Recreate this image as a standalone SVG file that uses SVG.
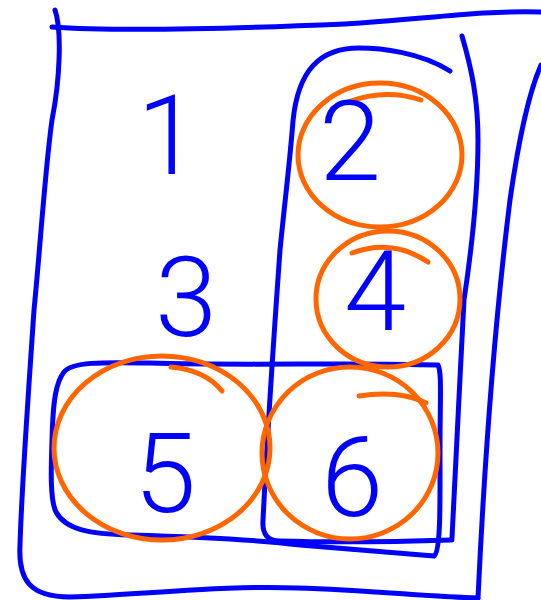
<svg xmlns="http://www.w3.org/2000/svg" width="541" height="600" viewBox="0 0 541 600">
<style>
.b{fill:none;stroke:#0000ff;stroke-width:5;stroke-linecap:round;stroke-linejoin:round}
.o{fill:none;stroke:#ff6600;stroke-width:5;stroke-linecap:round;stroke-linejoin:round}
.t{fill:#0000ff;font-family:Roboto,"Liberation Sans",sans-serif;font-weight:300;font-size:112px;text-anchor:middle}
</style>
<rect width="541" height="600" fill="#ffffff"/>
<g id="frame">
<path class="b" d="M55,10 C62,30 60,80 52,120 C45,170 40,250 34,310 C28,400 22,480 20,545 C18,580 30,597 70,597 C150,594 230,585 297,588 C370,590 430,597 478,598"/>
<path class="b" d="M478,598 C485,450 495,320 510,200 C520,130 530,90 541,65"/>
<path class="b" d="M52,27 C120,32 250,28 345,24 C420,20 480,10 541,12"/>
</g>
<g id="column">
<path class="b" d="M450,71 C420,52 380,48 359,48 C320,48 298,70 293,121 C290,160 285,200 280,250 C275,320 268,420 263,520 C262,535 268,541 280,541 C350,543 420,541 452,540"/>
<path class="b" d="M462,36 C472,70 478,100 478,140 C478,200 470,260 464,300 C460,380 455,470 452,538"/>
</g>
<g id="row">
<path class="b" d="M438,365 C350,362 250,366 150,363 C100,362 72,362 64,372 C56,382 53,400 52,440 C51,470 50,500 56,512 C66,530 90,534 130,535 C200,537 260,540 300,545 C360,550 420,555 434,556 C441,552 440,500 440,450 C440,400 442,372 438,365 Z"/>
</g>
<g id="n1"><text class="t" x="168" y="174">1</text></g>
<g id="n2">
<ellipse class="o" cx="380" cy="155" rx="82" ry="72"/>
<path class="o" d="M348,102 Q385,88 421,100"/>
<text class="t" x="350" y="180">2</text>
</g>
<g id="n3"><text class="t" x="186" y="336">3</text></g>
<g id="n4">
<ellipse class="o" cx="388" cy="299" rx="72" ry="68"/>
<path class="o" d="M352,253 Q392,238 428,262"/>
<text class="t" x="375" y="330">4</text>
</g>
<g id="n5">
<ellipse class="o" cx="162" cy="448" rx="108" ry="92"/>
<path class="o" d="M171,367 Q205,370 222,391"/>
<text class="t" x="165" y="512">5</text>
</g>
<g id="n6">
<ellipse class="o" cx="350" cy="453" rx="88" ry="86"/>
<path class="o" d="M359,396 Q400,390 426,403"/>
<text class="t" x="352" y="516">6</text>
</g>
<g id="connectors"/>
</svg>
